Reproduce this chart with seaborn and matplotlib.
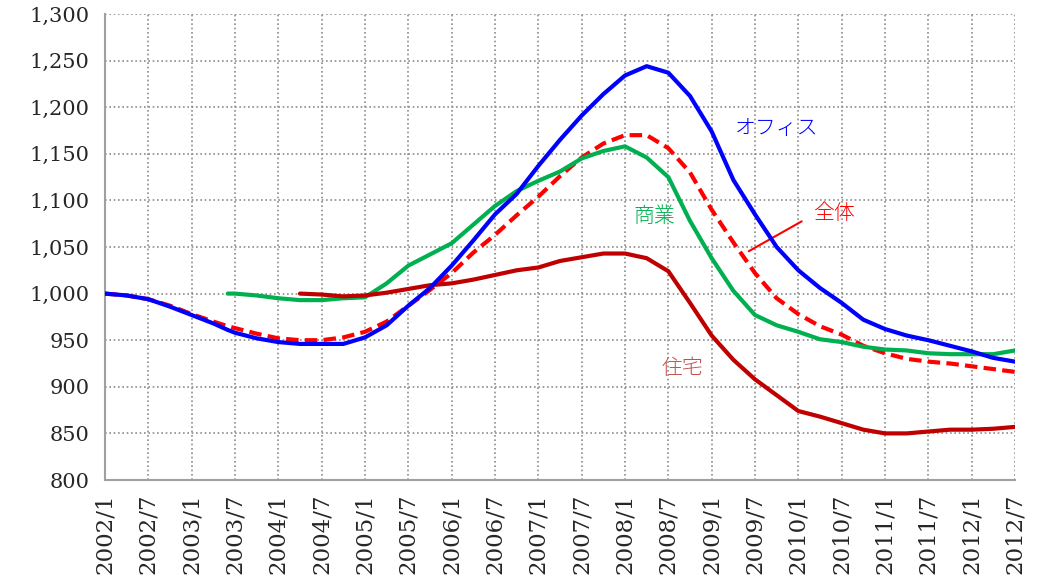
import matplotlib
matplotlib.use("Agg")
import matplotlib.pyplot as plt
from matplotlib.ticker import MultipleLocator, FuncFormatter
import seaborn as sns
import pandas as pd
import numpy as np

# ---- data ----
dates = ["2002/1", "2002/4", "2002/7", "2002/10", "2003/1", "2003/4", "2003/6", "2003/7",
         "2003/10", "2004/1", "2004/4", "2004/7", "2004/10", "2005/1", "2005/4", "2005/7",
         "2005/10", "2006/1", "2006/4", "2006/7", "2006/10", "2007/1", "2007/4", "2007/7",
         "2007/10", "2008/1", "2008/4", "2008/7", "2008/10", "2009/1", "2009/4", "2009/7",
         "2009/10", "2010/1", "2010/4", "2010/7", "2010/10", "2011/1", "2011/4", "2011/7",
         "2011/10", "2012/1", "2012/4", "2012/7"]

office = [1000, 998, 994, 986, 977, 968, 961, 958,
          952, 948, 946, 946, 946, 953, 966, 987,
          1006, 1030, 1057, 1085, 1107, 1137, 1165, 1191,
          1214, 1234, 1244, 1237, 1212, 1174, 1122, 1085,
          1050, 1025, 1006, 990, 972, 962, 955, 950,
          944, 938, 931, 927]

total = [1000, 998, 994, 987, 978, 970, 965, 963,
         957, 952, 950, 950, 953, 959, 970, 987,
         1004, 1022, 1044, 1063, 1084, 1104, 1126, 1146,
         1161, 1170, 1170, 1156, 1130, 1090, 1055, 1022,
         995, 978, 965, 956, 944, 936, 930, 927,
         925, 922, 919, 916]

commercial = [None, None, None, None, None, None, 1000, 1000,
              998, 995, 993, 993, 995, 996, 1011, 1030,
              1042, 1054, 1074, 1094, 1110, 1121, 1131, 1145,
              1153, 1158, 1146, 1125, 1078, 1038, 1003, 977,
              966, 959, 951, 948, 943, 940, 939, 936,
              935, 935, 935, 939]

residential = [None, None, None, None, None, None, None, None,
               None, None, 1000, 999, 997, 998, 1001, 1005,
               1009, 1011, 1015, 1020, 1025, 1028, 1035, 1039,
               1043, 1043, 1038, 1024, 990, 955, 929, 908,
               891, 874, 868, 861, 854, 850, 850, 852,
               854, 854, 855, 857]

tick_labels = ["2002/1", "2002/7", "2003/1", "2003/7", "2004/1", "2004/7", "2005/1", "2005/7",
               "2006/1", "2006/7", "2007/1", "2007/7", "2008/1", "2008/7", "2009/1", "2009/7",
               "2010/1", "2010/7", "2011/1", "2011/7", "2012/1", "2012/7"]


def month_index(s):
    y, m = s.split("/")
    return (int(y) - 2002) * 12 + int(m) - 1


df = pd.DataFrame({
    "month": [month_index(d) for d in dates],
    "office": office,
    "total": total,
    "commercial": commercial,
    "residential": residential,
}).astype(float)

sns.set_style("white")
plt.rcParams["font.family"] = ["DejaVu Serif"]

fig = plt.figure(figsize=(10.45, 5.85), dpi=100)
ax = fig.add_axes([105 / 1045, 1 - 480 / 585, 910 / 1045, 466 / 585])

sns.lineplot(data=df, x="month", y="total", ax=ax, color="#FF0000", linewidth=3.0, zorder=3)
ax.lines[-1].set_dashes([3.0, 1.5])
sns.lineplot(data=df, x="month", y="commercial", ax=ax, color="#00B050", linewidth=3.0, zorder=4)
sns.lineplot(data=df, x="month", y="residential", ax=ax, color="#C00000", linewidth=3.0, zorder=5)
sns.lineplot(data=df, x="month", y="office", ax=ax, color="#0000FF", linewidth=3.0, zorder=6)

ax.set_xlim(0, 126)
ax.set_ylim(800, 1300)
ax.set_xlabel("")
ax.set_ylabel("")

ax.set_xticks([month_index(t) for t in tick_labels])
ax.set_xticklabels(tick_labels, rotation=90, fontsize=16.5)
ax.xaxis.set_minor_locator(MultipleLocator(1))
ax.yaxis.set_major_locator(MultipleLocator(50))
ax.yaxis.set_major_formatter(FuncFormatter(lambda v, p: f"{int(v):,}"))
for lab in ax.get_yticklabels():
    lab.set_fontsize(15)

ax.grid(True, which="major", color="#8c8c8c", linestyle=(0, (1.0, 1.6)), linewidth=1.2)
ax.set_axisbelow(True)

for side in ["top", "right"]:
    ax.spines[side].set_visible(False)
for side in ["left", "bottom"]:
    ax.spines[side].set_color("#a0a0a0")
    ax.spines[side].set_linewidth(1.5)

ax.tick_params(axis="x", which="major", direction="inout", length=12, width=1.3,
               color="#a0a0a0", pad=4, labelsize=16.5)
ax.tick_params(axis="x", which="minor", direction="in", length=5, width=1.0, color="#a0a0a0")
ax.tick_params(axis="y", which="major", direction="out", length=5, width=1.3,
               color="#a0a0a0", pad=6, labelsize=15)

jp = ["Noto Sans CJK JP", "DejaVu Sans"]
ax.text(month_index("2009/10"), 1178, "オフィス", color="#0000FF", fontsize=15, family=jp,
        ha="center", va="center", fontweight="light")
ax.text(month_index("2008/5"), 1083, "商業", color="#00B050", fontsize=15, family=jp,
        ha="center", va="center", fontweight="light")
ax.text(month_index("2010/6"), 1086, "全体", color="#FF0000", fontsize=15, family=jp,
        ha="center", va="center", fontweight="light")
ax.text(month_index("2008/9"), 920, "住宅", color="#C0504D", fontsize=15, family=jp,
        ha="center", va="center", fontweight="light")
ax.annotate("", xy=(month_index("2009/6") - 0.2, 1044), xytext=(month_index("2010/1") + 0.8, 1079),
            arrowprops=dict(arrowstyle="-", color="#FF0000", linewidth=1.5))

fig.savefig("out.png", dpi=100)
